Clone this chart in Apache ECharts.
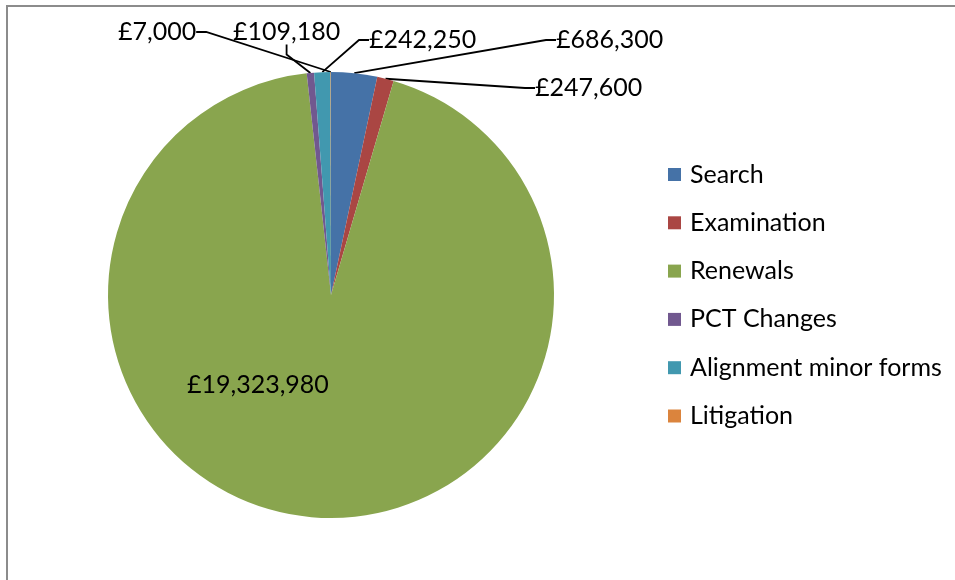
<!DOCTYPE html>
<html>
<head>
<meta charset="utf-8">
<script src="https://cdn.jsdelivr.net/npm/echarts@6/dist/echarts.min.js"></script>
<style>
  html, body { margin: 0; padding: 0; background: #fff; }
  #frame {
    position: absolute; left: 6px; top: 5px; right: 0; bottom: 0;
    border-top: 2px solid #8c8c8c; border-left: 2px solid #8c8c8c;
  }
  #chart { position: absolute; left: 0; top: 0; width: 955px; height: 580px; }
</style>
</head>
<body>
<div id="frame"></div>
<div id="chart"></div>
<script>
const categories = ['Search', 'Examination', 'Renewals', 'PCT Changes', 'Alignment minor forms', 'Litigation'];
const values = [686300, 247600, 19323980, 109180, 242250, 7000];
const colors = ['#4572A7', '#AA4643', '#89A54E', '#71588F', '#4198AF', '#DB843D'];

// where Excel put each data label (left edge, middle)
const labelSpots = [
  [556, 40], [535, 88], [187, 385], [233, 32], [369, 40], [118, 32]
];

const fontFamily = 'Lato, "Open Sans", sans-serif';

const chart = echarts.init(document.getElementById('chart'));

const option = {
  animation: false,
  color: colors,
  legend: {
    orient: 'vertical',
    left: 663,
    top: 157,
    itemWidth: 13,
    itemHeight: 13,
    itemGap: 23.3,
    icon: 'rect',
    textStyle: {
      fontFamily,
      fontSize: 25,
      lineHeight: 24,
      color: '#000',
      padding: [0, 0, 0, 4],
    },
    data: categories,
  },
  series: [
    {
      type: 'pie',
      center: [331, 295],
      radius: 223,
      startAngle: 90,
      clockwise: true,
      avoidLabelOverlap: false,
      itemStyle: { borderWidth: 0 },
      label: {
        show: true,
        position: 'outside',
        fontFamily,
        fontSize: 25,
        color: '#000',
        formatter: (p) => '£' + p.value.toLocaleString('en-GB'),
      },
      labelLine: {
        show: true,
        length: 10,
        length2: 10,
        lineStyle: { color: '#000', width: 1.8 },
      },
      labelLayout: (params) => {
        const spot = labelSpots[params.dataIndex];
        return {
          x: spot[0],
          y: spot[1],
          align: 'left',
          verticalAlign: 'middle',
        };
      },
      data: categories.map((name, i) => ({
        name,
        value: values[i],
        labelLine: { show: name !== 'Renewals' },
      })),
    },
  ],
};

chart.setOption(option);
</script>
</body>
</html>
